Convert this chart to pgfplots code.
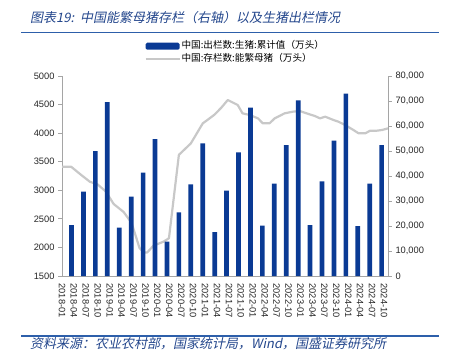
\documentclass[border=0pt]{standalone}
\usepackage{fontspec}
\setmainfont{Liberation Sans}
\newfontfamily\cjk{Noto Sans CJK SC}
\newfontfamily\cjkit[FakeSlant=0.2]{Noto Sans CJK SC}
\usepackage{pgfplots}
\pgfplotsset{compat=1.18}
\definecolor{barblue}{RGB}{10,58,148}
\definecolor{linegray}{RGB}{200,200,200}
\definecolor{titleblue}{RGB}{35,70,140}
\definecolor{rulecol}{RGB}{45,95,170}
\definecolor{axisgray}{RGB}{165,165,165}
\begin{document}
\begin{tikzpicture}
\useasboundingbox (0pt,0pt) rectangle (450pt,-356pt);
\node[anchor=west, font=\cjkit\fontsize{13}{14}\selectfont, text=titleblue, inner sep=0pt] at (30pt,-17.3pt) {图表19:\ \ 中国能繁母猪存栏（右轴）以及生猪出栏情况};
\draw[rulecol, line width=1.6pt] (21pt,-32.3pt) -- (439pt,-32.3pt);
\draw[rulecol, line width=1.6pt] (21pt,-335.7pt) -- (439pt,-335.7pt);
\node[anchor=west, font=\cjkit\fontsize{13}{14}\selectfont, text=titleblue, inner sep=0pt] at (30pt,-343.5pt) {资料来源：农业农村部，国家统计局，Wind，国盛证券研究所};

\begin{axis}[
  at={(62pt,-276pt)}, anchor=south west, scale only axis,
  width=326pt, height=200pt,
  xmin=0, xmax=82, ymin=1500, ymax=5000,
  axis x line*=bottom, axis y line*=left,
  axis line style={axisgray, line width=0.8pt},
  xtick={0,3,...,81},
  xticklabels={2018-01,2018-04,2018-07,2018-10,2019-01,2019-04,2019-07,2019-10,2020-01,2020-04,2020-07,2020-10,2021-01,2021-04,2021-07,2021-10,2022-01,2022-04,2022-07,2022-10,2023-01,2023-04,2023-07,2023-10,2024-01,2024-04,2024-07,2024-10},
  xtick style={draw=none},
  ytick={1500,2000,...,5000},
  ytick style={axisgray, line width=0.8pt},
  tick align=outside, major tick length=4pt,
  /pgf/number format/assume math mode=true,
  yticklabel style={/pgf/number format/1000 sep={}},
  tick label style={font=\fontsize{9.3}{10}\selectfont, text=black!85},
  xticklabel style={rotate=-90, anchor=west},
]
\addplot[linegray, line width=2.2pt, line join=round] coordinates {
(0,3412) (2.3,3412) (4.8,3270) (7,3150) (9,3100) (11,2980) (13,2760) (15.5,2620)
(17.5,2430) (19.5,1990) (20.6,1910) (21.4,1910) (23,2030) (25.5,2100) (26.9,2160)
(29.4,3620) (32.4,3820) (35.4,4170) (38.3,4320) (40,4440) (41.7,4580) (44.2,4493)
(45.4,4347) (47.2,4318) (49.3,4259) (50.5,4172) (52.2,4172) (53.5,4259) (56,4347)
(58.1,4376) (59.8,4388) (61.5,4347) (63.6,4300) (64.9,4259) (66.2,4288) (68.3,4230)
(69.5,4201) (71.2,4143) (73.3,4055) (74.6,3997) (76.3,3997) (77.5,4043) (79.2,4043)
(80.5,4055) (82,4084)
};
\end{axis}

\begin{axis}[
  at={(62pt,-276pt)}, anchor=south west, scale only axis,
  width=326pt, height=200pt,
  xmin=0, xmax=82, ymin=0, ymax=80000,
  axis x line=none, axis y line*=right,
  axis line style={axisgray, line width=0.8pt},
  ytick={0,10000,...,80000},
  ytick style={axisgray, line width=0.8pt},
  tick align=outside, major tick length=4pt,
  scaled y ticks=false,
  /pgf/number format/assume math mode=true,
  yticklabel style={/pgf/number format/.cd, fixed, 1000 sep={,}},
  tick label style={font=\fontsize{9.3}{10}\selectfont, text=black!85},
  legend cell align=left,
  legend style={at={(0.53,1.117)}, anchor=center, draw=none, fill=none,
    font=\cjk\fontsize{9.6}{10}\selectfont, row sep=2.2pt, inner sep=0pt,
    nodes={inner sep=1pt, text height=7pt, text depth=1.5pt}},
]
\addplot[ybar, bar width=4.7pt, bar shift=0pt, fill=barblue, draw=none,
  legend image code/.code={\fill[barblue, rounded corners=1.5pt] (0pt,-3.5pt) rectangle (34pt,3.5pt);}]
coordinates {
(2.4,20400) (5.4,33733) (8.4,50000) (11.4,69600)
(14.4,19333) (17.4,31733) (20.4,41333) (23.4,54800)
(26.4,13733) (29.4,25467) (32.4,36667) (35.4,53067)
(38.4,17600) (41.4,34133) (44.4,49467) (47.4,67333)
(50.4,20133) (53.4,36933) (56.4,52400) (59.4,70267)
(62.4,20400) (65.4,37867) (68.4,54133) (71.4,72933)
(74.4,20000) (77.4,36933) (80.4,52400)
};
\addlegendentry{中国:出栏数:生猪:累计值（万头）}
\addlegendimage{legend image code/.code={\draw[linegray, line width=2pt] (0pt,0pt) -- (34pt,0pt);}}
\addlegendentry{中国:存栏数:能繁母猪（万头）}
\end{axis}
\end{tikzpicture}
\end{document}
